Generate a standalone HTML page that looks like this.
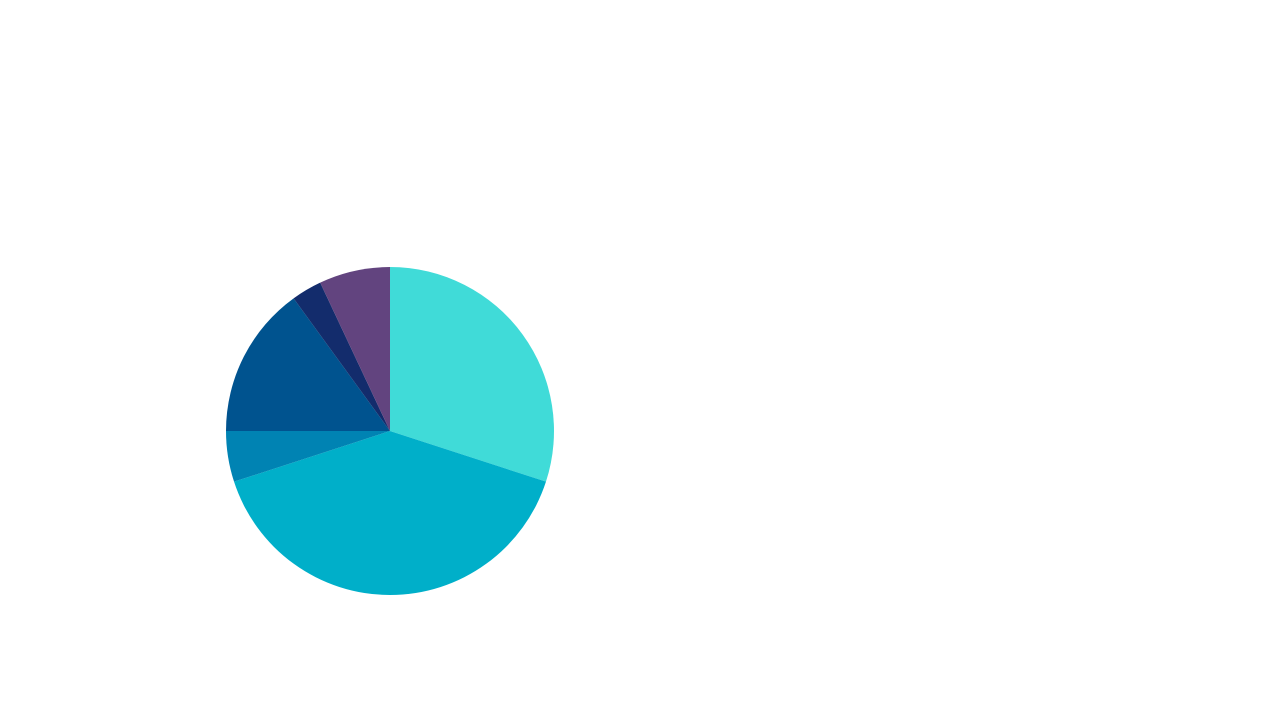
<!DOCTYPE html>
<html>
<head>
<meta charset="utf-8">
<style>
  html, body { margin: 0; padding: 0; background: #ffffff; }
  body { width: 1280px; height: 720px; overflow: hidden; font-family: "Liberation Sans", sans-serif; }
  svg { display: block; }
</style>
</head>
<body>
<svg id="chart" width="1280" height="720" viewBox="0 0 1280 720" xmlns="http://www.w3.org/2000/svg">
  <rect width="1280" height="720" fill="#ffffff"/>
  <g id="slices"></g>
</svg>
<script>
const categories = ["A", "B", "C", "D", "E", "F"];
const values = [30, 40, 5, 15, 3, 7];
const colors = ["#40dbd8", "#00afc9", "#0083b3", "#00538f", "#132c6c", "#62447f"];

const cx = 390, cy = 431, r = 164;
const g = document.getElementById('slices');
const total = values.reduce((a, b) => a + b, 0);
function pt(frac) {
  const a = frac * 2 * Math.PI;
  return [cx + r * Math.sin(a), cy - r * Math.cos(a)];
}
let acc = 0;
values.forEach((v, i) => {
  const f0 = acc / total;
  acc += v;
  const f1 = acc / total;
  const [x0, y0] = pt(f0);
  const [x1, y1] = pt(f1);
  const large = (f1 - f0) > 0.5 ? 1 : 0;
  const p = document.createElementNS('http://www.w3.org/2000/svg', 'path');
  p.setAttribute('d', `M${cx},${cy} L${x0},${y0} A${r},${r} 0 ${large} 1 ${x1},${y1} Z`);
  p.setAttribute('fill', colors[i % colors.length]);
  
  
  g.appendChild(p);
});
</script>
</body>
</html>
